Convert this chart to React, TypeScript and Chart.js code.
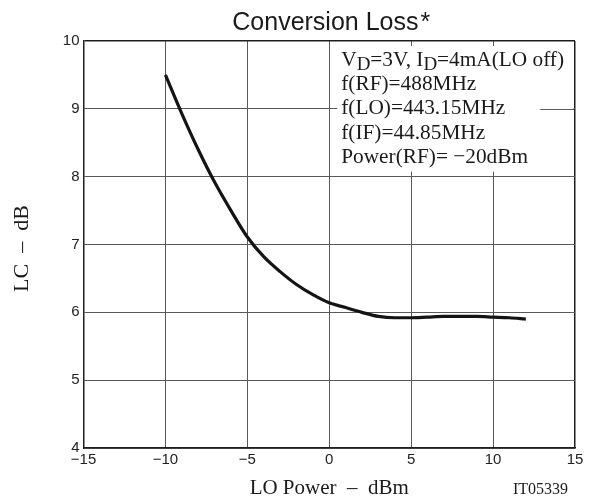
import React, { useEffect, useRef } from "react";
import { Chart, registerables } from "chart.js";

Chart.register(...registerables);

// ---- data ----
const loPower = [-10, -9, -8, -7, -6, -5, -4, -3, -2, -1, 0, 1, 2, 3, 4, 5, 6, 7, 8, 9, 10, 11, 12];
const conversionLoss = [9.5, 8.93, 8.4, 7.92, 7.5, 7.11, 6.82, 6.6, 6.41, 6.26, 6.14, 6.07, 6.0, 5.94, 5.92, 5.92, 5.93, 5.94, 5.94, 5.94, 5.93, 5.92, 5.9];
const xTicks = [-15, -10, -5, 0, 5, 10, 15];
const yTicks = [4, 5, 6, 7, 8, 9, 10];
const chartTitle = "Conversion Loss";
const titleMark = "*";
const xTitle = "LO Power  \u2013  dBm";
const yTitle = "LC  \u2013  dB";
const figureId = "IT05339";
type Seg = { t: string; sub?: boolean };
const noteLines: Seg[][] = [
  [{ t: "V" }, { t: "D", sub: true }, { t: "=3V, I" }, { t: "D", sub: true }, { t: "=4mA(LO off)" }],
  [{ t: "f(RF)=488MHz" }],
  [{ t: "f(LO)=443.15MHz" }],
  [{ t: "f(IF)=44.85MHz" }],
  [{ t: "Power(RF)= \u221220dBm" }],
];

const SANS = "'Liberation Sans', Arial, sans-serif";
const SERIF = "'Liberation Serif', 'Times New Roman', serif";
const GRID = "#5a5a5a";
const DARK = "#1e1e1e";

const textPlugin = {
  id: "textPlugin",
  beforeDatasetsDraw(chart: any) {
    const { ctx, chartArea, scales } = chart;
    const xs = scales.x;
    const ys = scales.y;
    ctx.save();
    // note box
    const noteX = xs.getPixelForValue(0) + 12;
    const boxL = xs.getPixelForValue(0) + 8;
    const boxT = chartArea.top + 5;
    const boxB = ys.getPixelForValue(8) - 5;
    ctx.fillStyle = "#ffffff";
    ctx.fillRect(boxL, boxT, chartArea.right - 1.5 - boxL, boxB - boxT);
    const mainFont = `21.3px ${SERIF}`;
    const subFont = `19px ${SERIF}`;
    ctx.font = mainFont;
    ctx.fillStyle = "#1a1a1a";
    ctx.textBaseline = "alphabetic";
    ctx.textAlign = "left";
    let line3End = noteX;
    noteLines.forEach((segs, i) => {
      let x = noteX;
      const base = chartArea.top + 25 + i * 24.2;
      segs.forEach((s) => {
        if (s.sub) {
          ctx.font = subFont;
          ctx.fillText(s.t, x, base + 4);
          x += ctx.measureText(s.t).width;
          ctx.font = mainFont;
        } else {
          ctx.fillText(s.t, x, base);
          x += ctx.measureText(s.t).width;
        }
      });
      if (i === 2) line3End = x;
    });
    // gridline at 9 resumes to the right of the note
    const y9 = Math.round(ys.getPixelForValue(9)) + 0.5;
    ctx.strokeStyle = GRID;
    ctx.lineWidth = 1;
    ctx.beginPath();
    ctx.moveTo(line3End + 35, y9);
    ctx.lineTo(chartArea.right - 1, y9);
    ctx.stroke();
    ctx.restore();
  },
  afterDraw(chart: any) {
    const { ctx, chartArea } = chart;
    ctx.save();
    ctx.fillStyle = "#1a1a1a";
    // title
    ctx.font = `25px ${SANS}`;
    const w1 = ctx.measureText(chartTitle).width;
    const w2 = ctx.measureText(titleMark).width;
    const cx = (chartArea.left + chartArea.right) / 2 + 2;
    const start = cx - (w1 + w2 + 2) / 2;
    ctx.textAlign = "left";
    ctx.textBaseline = "alphabetic";
    ctx.fillText(chartTitle, start, 30);
    ctx.fillText(titleMark, start + w1 + 2, 30);
    // x title
    ctx.font = `21px ${SERIF}`;
    ctx.textAlign = "center";
    ctx.fillText(xTitle, (chartArea.left + chartArea.right) / 2, 494);
    // figure id
    ctx.font = `16px ${SERIF}`;
    ctx.textAlign = "left";
    ctx.fillText(figureId, 513, 494);
    // y title
    ctx.translate(28, (chartArea.top + chartArea.bottom) / 2 + 4);
    ctx.rotate(-Math.PI / 2);
    ctx.font = `22px ${SERIF}`;
    ctx.textAlign = "center";
    ctx.fillText(yTitle, 0, 0);
    ctx.restore();
  },
};

export default function App() {
  const ref = useRef<HTMLCanvasElement | null>(null);
  useEffect(() => {
    if (!ref.current) return;
    const chart = new Chart(ref.current, {
      type: "line",
      data: {
        datasets: [
          {
            data: loPower.map((x, i) => ({ x, y: conversionLoss[i] })),
            borderColor: "#141414",
            borderWidth: 3.2,
            pointRadius: 0,
            tension: 0.4,
            cubicInterpolationMode: "monotone",
            fill: false,
          },
        ],
      },
      options: {
        animation: false,
        responsive: false,
        events: [],
        layout: { padding: { top: 41, right: 16, left: 0, bottom: 0 } },
        plugins: { legend: { display: false }, tooltip: { enabled: false }, title: { display: false } },
        scales: {
          x: {
            type: "linear",
            min: -15,
            max: 15,
            afterBuildTicks: (s: any) => {
              s.ticks = xTicks.map((v) => ({ value: v }));
            },
            afterFit: (s: any) => {
              s.height = 50;
            },
            grid: {
              drawTicks: false,
              color: (c: any) => (c.tick && c.tick.value === 15 ? DARK : GRID),
              lineWidth: (c: any) => (c.tick && c.tick.value === 15 ? 1.5 : 1),
            },
            border: { color: DARK, width: 1.5 },
            ticks: {
              padding: 3,
              color: "#222",
              font: { family: SANS, size: 15 },
              maxRotation: 0,
              autoSkip: false,
              callback: (v: any) => String(v).replace("-", "\u2212"),
            },
          },
          y: {
            type: "linear",
            min: 4,
            max: 10,
            afterBuildTicks: (s: any) => {
              s.ticks = yTicks.map((v) => ({ value: v }));
            },
            afterFit: (s: any) => {
              s.width = 83.5;
            },
            grid: {
              drawTicks: false,
              color: (c: any) => (c.tick && c.tick.value === 10 ? DARK : GRID),
              lineWidth: (c: any) => (c.tick && c.tick.value === 10 ? 1.5 : 1),
            },
            border: { color: DARK, width: 1.5 },
            ticks: {
              padding: 4,
              color: "#222",
              font: { family: SANS, size: 15 },
              autoSkip: false,
            },
          },
        },
      },
      plugins: [textPlugin],
    } as any);
    return () => chart.destroy();
  }, []);
  return (
    <div style={{ position: "absolute", left: 0, top: 0, width: 591, height: 498, background: "#fff" }}>
      <canvas ref={ref} width={591} height={498} style={{ display: "block", width: 591, height: 498 }} />
    </div>
  );
}
